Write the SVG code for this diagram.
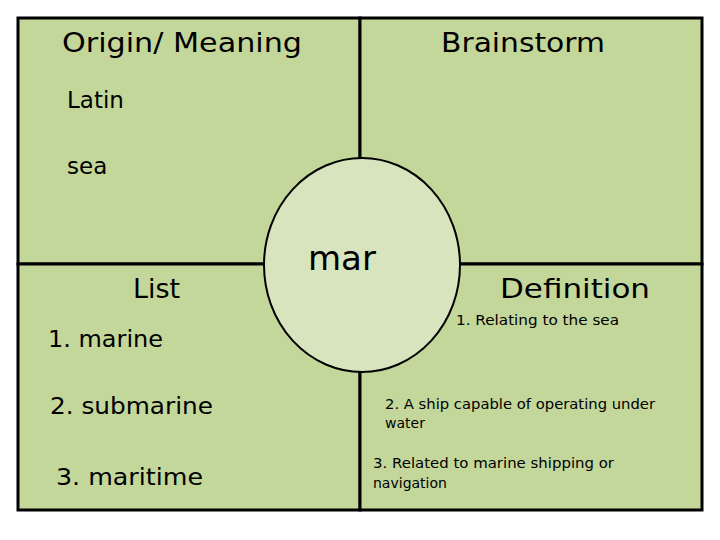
<svg xmlns="http://www.w3.org/2000/svg" width="720" height="540" viewBox="0 0 720 540">
<style>
.q{fill:#c4d79b;stroke:#000;stroke-width:3}
text{font-family:"DejaVu Sans","Noto Sans",sans-serif;fill:#000}
.h{font-size:27px}
.m{font-size:23px}
.s{font-size:14px}
</style>
<rect width="720" height="540" fill="#fff"/>
<g id="quadrants">
<rect id="q1" class="q" x="18" y="18" width="342" height="246"/>
<rect id="q2" class="q" x="360" y="18" width="342" height="246"/>
<rect id="q3" class="q" x="18" y="264" width="342" height="246"/>
<rect id="q4" class="q" x="360" y="264" width="342" height="246"/>
</g>
<g id="center">
<ellipse cx="362" cy="265" rx="98" ry="107" fill="#d7e4bd" stroke="#000" stroke-width="2"/>
<text class="h" x="308" y="270" style="font-size:34px">mar</text>
</g>
<g id="origin">
<text class="h" x="62" y="52" textLength="240" lengthAdjust="spacingAndGlyphs">Origin/ Meaning</text>
<text class="m" x="67" y="108">Latin</text>
<text class="m" x="67" y="174">sea</text>
</g>
<g id="brainstorm"><text class="h" x="441" y="52" textLength="164" lengthAdjust="spacingAndGlyphs">Brainstorm</text></g>
<g id="list">
<text class="h" x="133" y="298">List</text>
<text class="m" x="48" y="347" textLength="115" lengthAdjust="spacingAndGlyphs">1. marine</text>
<text class="m" x="50" y="414" textLength="163" lengthAdjust="spacingAndGlyphs">2. submarine</text>
<text class="m" x="56" y="485" textLength="147" lengthAdjust="spacingAndGlyphs">3. maritime</text>
</g>
<g id="definition">
<text class="h" x="500" y="298" textLength="150" lengthAdjust="spacingAndGlyphs">Definition</text>
<text class="s" x="456" y="325" textLength="163" lengthAdjust="spacingAndGlyphs">1.  Relating to the sea</text>
<text class="s" x="385" y="409" textLength="270" lengthAdjust="spacingAndGlyphs">2. A ship capable of operating under</text>
<text class="s" x="385" y="428">water</text>
<text class="s" x="373" y="468" textLength="241" lengthAdjust="spacingAndGlyphs">3.  Related to marine shipping or</text>
<text class="s" x="373" y="488">navigation</text>
</g>
</svg>
